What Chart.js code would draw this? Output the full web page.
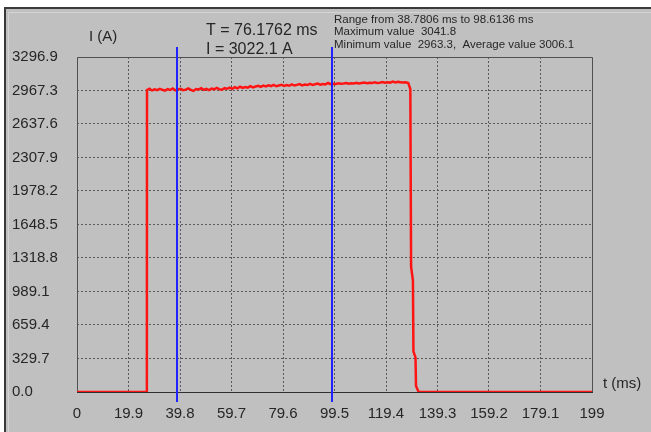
<!DOCTYPE html>
<html><head><meta charset="utf-8">
<script src="https://cdn.jsdelivr.net/npm/chart.js@4.4.0/dist/chart.umd.min.js"></script>
<style>html,body{margin:0;padding:0;background:#c0c0c0;overflow:hidden}
#wrap{position:relative;width:651px;height:432px}</style>
</head><body><div id="wrap"><canvas id="c" width="651" height="432"></canvas></div>
<script>
const xTicks=[0,19.9,39.8,59.7,79.6,99.5,119.4,139.3,159.2,179.1,199];
const xTickLabels=['0','19.9','39.8','59.7','79.6','99.5','119.4','139.3','159.2','179.1','199'];
const yTicks=[0,329.7,659.4,989.1,1318.8,1648.5,1978.2,2307.9,2637.6,2967.3,3296.9];
const yTickLabels=['0.0','329.7','659.4','989.1','1318.8','1648.5','1978.2','2307.9','2637.6','2967.3','3296.9'];
const traceT=[0,27.0,27.05,
28,29,30,31,32,33,34,35,36,37,38,39,40,41,42,43,44,45,46,47,48,49,50,
51,52,53,54,55,56,57,58,59,60,61,62,63,64,65,66,67,68,69,70,71,72,73,74,75,
76,77,78,79,80,81,82,83,84,85,86,87,88,89,90,91,92,93,94,95,96,97,98,99,100,
101,102,103,104,105,106,107,108,109,110,111,112,113,114,115,116,117,118,119,120,
121,122,123,124,125,126,127,128,
128.8,129.1,129.8,130.0,130.8,131.0,132.0,199];
const traceI=[0,0,2972,
2985,2968,2979,2970,2983,2974,2966,2980,2972,2987,2969,2978,2984,2970,2976,2988,2973,2963,2981,2977,2989,2974,2983,
2971,2986,2979,2992,2980,2975,2990,2984,2996,2983,2999,2988,3004,2992,3001,2995,3010,2998,3006,3013,3002,3016,3008,3019,3011,
3022,3009,3017,3024,3012,3020,3014,3027,3016,3023,3030,3018,3025,3021,3033,3022,3028,3035,3024,3031,3027,3041,3029,3034,3031,
3038,3033,3036,3040,3034,3039,3036,3042,3037,3041,3045,3038,3043,3040,3047,3041,3044,3050,3043,3048,
3045,3056,3047,3052,3049,3046,3048,3040,
2980,1230,1100,400,340,60,0,0];
const cursorT=[38.7806,98.6136];
const cursorText=['T = 76.1762 ms','I = 3022.1 A'];
const statsText=['Range from 38.7806 ms to 98.6136 ms','Maximum value  3041.8','Minimum value  2963.3,  Average value 3006.1'];
const yTitle='I (A)';
const xTitle='t (ms)';

const TXT='#262626';
const FONT='"Liberation Sans", Arial, sans-serif';

const deco={
  id:'deco',
  beforeDraw(ch){
    const c=ch.ctx; c.save();
    c.fillStyle='#c0c0c0'; c.fillRect(0,0,ch.width,ch.height);
    c.fillStyle='#ffffff'; c.fillRect(0,0,ch.width,7); c.fillRect(0,0,4,ch.height);
    c.fillStyle='#3a3a3a'; c.fillRect(4,7,ch.width-4,2); c.fillRect(4,7,2,ch.height-7);
    c.fillStyle='#d4d4d4'; c.fillRect(8,12,ch.width-8,1); c.fillRect(8,12,1,ch.height-12);
    c.restore();
  },
  beforeDatasetsDraw(ch){
    const c=ch.ctx,a=ch.chartArea; c.save();
    c.strokeStyle='#505050'; c.lineWidth=1;
    c.beginPath();
    c.moveTo(Math.round(a.left)+0.5,Math.round(a.bottom)+0.5);
    c.lineTo(Math.round(a.left)+0.5,Math.round(a.top)+0.5);
    c.lineTo(Math.round(a.right)+0.5,Math.round(a.top)+0.5);
    c.lineTo(Math.round(a.right)+0.5,Math.round(a.bottom)+0.5);
    c.stroke();
    c.strokeStyle='#303030';
    c.beginPath();
    c.moveTo(Math.round(a.left),Math.round(a.bottom)+0.5);
    c.lineTo(Math.round(a.right)+1,Math.round(a.bottom)+0.5);
    c.stroke();
    c.restore();
  },
  afterDatasetsDraw(ch){
    const c=ch.ctx,a=ch.chartArea,xs=ch.scales.x; c.save();
    c.strokeStyle='#2323ff'; c.lineWidth=2;
    cursorT.forEach(t=>{
      const px=Math.round(xs.getPixelForValue(t));
      c.beginPath(); c.moveTo(px,a.top-10); c.lineTo(px,a.bottom+10); c.stroke();
    });
    c.fillStyle=TXT; c.textBaseline='middle'; c.textAlign='left';
    c.font='15px '+FONT;
    c.fillText(yTitle,89,37);
    c.fillText(xTitle,603,384);
    c.font='16px '+FONT;
    c.fillText(cursorText[0],206,31);
    c.fillText(cursorText[1],206,50);
    c.font='11.5px '+FONT;
    c.fillText(statsText[0],334,20);
    c.fillText(statsText[1],334,32);
    c.fillText(statsText[2],334,45);
    c.restore();
  }
};

const gridColor=(ctx)=> (ctx.index===0||ctx.index===10)?'rgba(0,0,0,0)':'#5a5a5a';

new Chart(document.getElementById('c'),{
  type:'line',
  data:{datasets:[{
    data:traceT.map((t,i)=>({x:t,y:traceI[i]})),
    borderColor:'#ff1414',borderWidth:2.5,pointRadius:0,tension:0,fill:false
  }]},
  options:{
    responsive:false,animation:false,devicePixelRatio:1,
    layout:{padding:{left:12,top:57,right:59,bottom:0}},
    plugins:{legend:{display:false},tooltip:{enabled:false}},
    scales:{
      x:{type:'linear',min:0,max:199,
        afterBuildTicks:s=>{s.ticks=xTicks.map(v=>({value:v}));},
        afterFit:s=>{s.height=40;},
        ticks:{autoSkip:false,maxRotation:0,padding:13,color:TXT,font:{family:FONT,size:15},
          callback:(v,i)=>xTickLabels[i]},
        grid:{color:gridColor,drawTicks:false,lineWidth:1},
        border:{display:false,dash:[2,2]}
      },
      y:{type:'linear',min:0,max:3296.9,
        afterBuildTicks:s=>{s.ticks=yTicks.map(v=>({value:v}));},
        afterFit:s=>{s.width=65;},
        ticks:{autoSkip:false,crossAlign:'far',padding:8,color:TXT,font:{family:FONT,size:15},
          callback:(v,i)=>yTickLabels[i]},
        grid:{color:gridColor,drawTicks:false,lineWidth:1},
        border:{display:false,dash:[2,2]}
      }
    }
  },
  plugins:[deco]
});
</script></body></html>
